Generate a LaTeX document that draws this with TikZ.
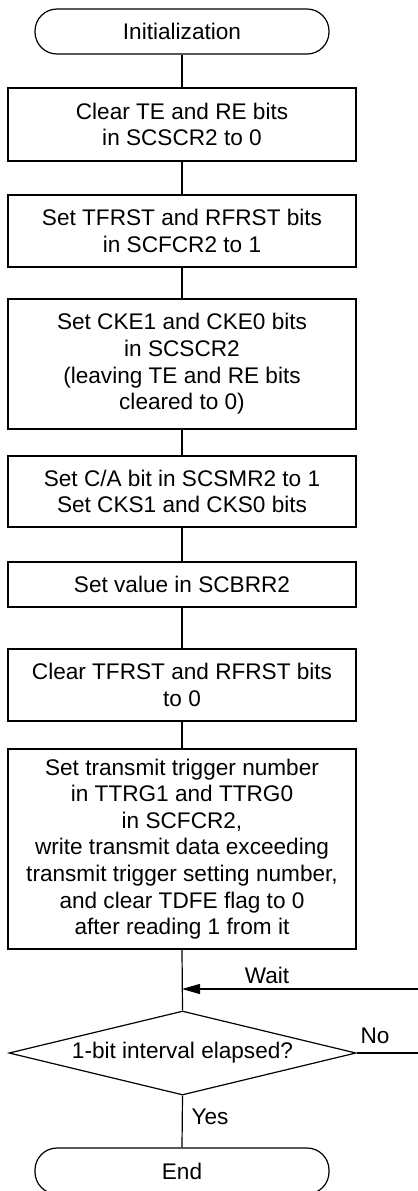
\documentclass[tikz,border=0pt]{standalone}
\usepackage{fontspec}
\setmainfont{Liberation Sans}
\usetikzlibrary{shapes.geometric,arrows.meta}
\begin{document}
\begin{tikzpicture}[x=0.5pt,y=-0.5pt,
  every node/.style={font=\fontsize{11.3}{13.3}\selectfont},
  line/.style={draw, line width=0.6pt},
  proc/.style={line, rectangle, minimum width=174pt, inner sep=0pt, align=center},
  term/.style={line, rectangle, rounded corners=11pt, minimum width=147pt, minimum height=22.5pt, inner sep=0pt},
  dec/.style={line, diamond, aspect=4.13, minimum width=173.5pt, minimum height=42pt, inner sep=0pt},
  lbl/.style={inner sep=0pt}]
\useasboundingbox (0,0) rectangle (418,1191);

\node[term] (init) at (182,31.5) {Initialization};
\node[proc, minimum height=36.5pt] (b1) at (182,124.5) {Clear TE and RE bits\\in SCSCR2 to 0};
\node[proc, minimum height=36pt] (b2) at (182,231) {Set TFRST and RFRST bits\\in SCFCR2 to 1};
\node[proc, minimum height=65pt] (b3) at (182,364) {Set CKE1 and CKE0 bits\\in SCSCR2\\(leaving TE and RE bits\\cleared to 0)};
\node[proc, minimum height=35.5pt] (b4) at (182,491.5) {Set C/A bit in SCSMR2 to 1\\Set CKS1 and CKS0 bits};
\node[proc, minimum height=22.5pt] (b5) at (182,584.5) {Set value in SCBRR2};
\node[proc, minimum height=36pt] (b6) at (182,685) {Clear TFRST and RFRST bits\\to 0};
\node[proc, minimum height=100pt] (b7) at (182,849) {Set transmit trigger number\\in TTRG1 and TTRG0\\in SCFCR2,\\write transmit data exceeding\\transmit trigger setting number,\\and clear TDFE flag to 0\\after reading 1 from it};
\node[dec] (d) at (182.5,1053) {1-bit interval elapsed?};
\node[term, minimum height=23pt] (end) at (182,1171) {End};

\coordinate (j) at (182,989);
\coordinate (r1) at (440,1053);
\coordinate (r2) at (440,989);

\draw[line] (init) -- (b1);
\draw[line] (b1) -- (b2);
\draw[line] (b2) -- (b3);
\draw[line] (b3) -- (b4);
\draw[line] (b4) -- (b5);
\draw[line] (b5) -- (b6);
\draw[line] (b6) -- (b7);
\draw[line] (b7.south) -- (d.north);
\draw[line] (d.south) -- (end.north);
\draw[line, -{Triangle[length=9pt,width=5pt]}] (d.east) -- (r1) -- (r2) -- (j);

\node[lbl] (wait) at (267,975) {Wait};
\node[lbl] (no) at (375,1036) {No};
\node[lbl] (yes) at (210,1117) {Yes};
\end{tikzpicture}
\end{document}
